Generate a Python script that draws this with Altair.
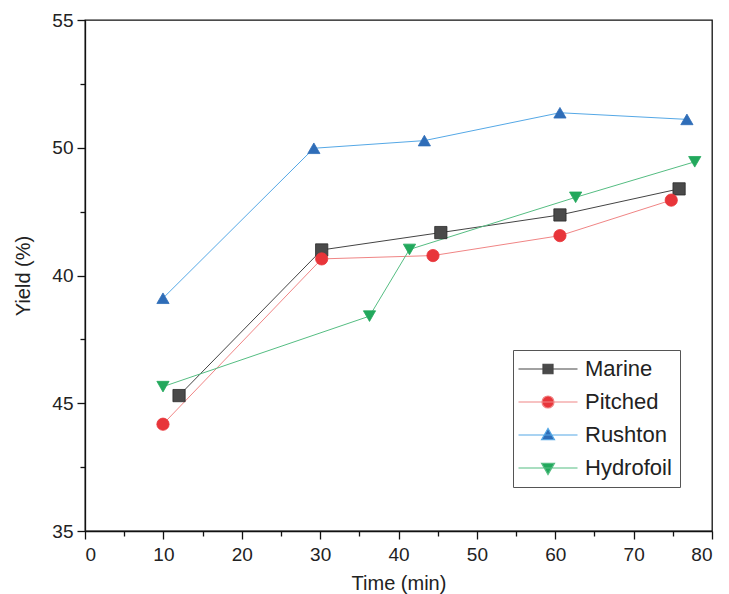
import altair as alt
import pandas as pd

series_names = ["Marine", "Pitched", "Rushton", "Hydrofoil"]

time_marine = [12.0, 30.2, 45.4, 60.6, 75.8]
yield_marine = [40.30, 46.00, 46.68, 47.37, 48.39]

time_pitched = [9.95, 30.2, 44.4, 60.6, 74.8]
yield_pitched = [39.18, 45.65, 45.78, 46.56, 47.95]

time_rushton = [9.95, 29.2, 43.3, 60.6, 76.8]
yield_rushton = [44.11, 49.98, 50.28, 51.37, 51.11]

time_hydro = [9.95, 36.3, 41.4, 62.6, 77.8]
yield_hydro = [40.65, 43.41, 46.02, 48.06, 49.45]

x_ticks = [0, 5, 10, 15, 20, 25, 30, 35, 40, 45, 50, 55, 60, 65, 70, 75, 80]
y_ticks = [35, 37.5, 40, 42.5, 45, 47.5, 50, 52.5, 55]

line_colors = ["#444444", "#f08585", "#55a8e6", "#55bd82"]
marker_fills = ["#4a4a4a", "#e8353a", "#2f6db8", "#22a85c"]
marker_strokes = ["#2a2a2a", "#e8353a", "#2f6db8", "#22a85c"]
marker_shapes = ["square", "circle", "triangle-up", "triangle-down"]

# legend symbols: a line with the marker in its middle
legend_paths = [
    "M-2.7,0H9.1M2.2,-0.95H4.2V0.95H2.2Z",
    "M-2.7,0H9.1M2.0,0A1.2,1.2 0 1,1 4.4,0A1.2,1.2 0 1,1 2.0,0Z",
    "M-2.7,0H9.1M1.9,0.95L3.2,-1.3L4.5,0.95Z",
    "M-2.7,0H9.1M1.9,-0.95L3.2,1.3L4.5,-0.95Z",
]

rows = []
for name, ts, ys in [
    ("Marine", time_marine, yield_marine),
    ("Pitched", time_pitched, yield_pitched),
    ("Rushton", time_rushton, yield_rushton),
    ("Hydrofoil", time_hydro, yield_hydro),
]:
    for i, (t, y) in enumerate(zip(ts, ys)):
        rows.append({"series": name, "time": t, "yield": y, "order": i})
df = pd.DataFrame(rows)

FONT = "Liberation Sans"

x_enc = alt.X(
    "time:Q",
    scale=alt.Scale(domain=[0, 80], nice=False),
    axis=alt.Axis(
        title="Time (min)",
        values=x_ticks,
        labelExpr="datum.value % 10 == 0 ? datum.label : ''",
        tickSize={"condition": {"test": "datum.value % 10 == 0", "value": 8}, "value": 5},
        labelPadding=6,
        titlePadding=9,
        grid=False,
    ),
)
y_enc = alt.Y(
    "yield:Q",
    scale=alt.Scale(domain=[35, 55], nice=False, zero=False),
    axis=alt.Axis(
        title="Yield (%)",
        values=y_ticks,
        labelExpr="datum.value == 40 ? '45' : (datum.value == 45 ? '40' : (datum.value % 5 == 0 ? datum.label : ''))",
        tickSize={"condition": {"test": "datum.value % 5 == 0", "value": 8}, "value": 5},
        labelPadding=4,
        titlePadding=18,
        grid=False,
    ),
)

base = alt.Chart(df)

lines = base.mark_line(strokeWidth=1.0).encode(
    x=x_enc,
    y=y_enc,
    order="order:Q",
    stroke=alt.Stroke(
        "series:N",
        scale=alt.Scale(domain=series_names, range=line_colors),
        legend=None,
    ),
)

points = base.mark_point(filled=True, size=150, strokeWidth=0.8, opacity=1).encode(
    x=x_enc,
    y=y_enc,
    fill=alt.Fill("series:N", scale=alt.Scale(domain=series_names, range=marker_fills), legend=None),
    stroke=alt.Stroke("series:N", scale=alt.Scale(domain=series_names, range=marker_strokes), legend=None),
    shape=alt.Shape("series:N", scale=alt.Scale(domain=series_names, range=marker_shapes), legend=None),
)

legend_layer = base.transform_filter("false").mark_point(filled=True, opacity=1).encode(
    x=x_enc,
    y=y_enc,
    fill=alt.Fill("series:N", scale=alt.Scale(domain=series_names, range=marker_fills), legend=alt.Legend(title=None)),
    stroke=alt.Stroke("series:N", scale=alt.Scale(domain=series_names, range=line_colors), legend=alt.Legend(title=None)),
    shape=alt.Shape("series:N", scale=alt.Scale(domain=series_names, range=legend_paths), legend=alt.Legend(title=None)),
)

chart = (
    alt.layer(lines, points, legend_layer)
    .resolve_scale(stroke="independent", fill="independent", shape="independent")
    .properties(
        width=627,
        height=511,
        autosize=alt.AutoSizeParams(type="none"),
        padding={"left": 77, "top": 12, "right": 9, "bottom": 63},
    )
    .configure_view(stroke="#111", strokeWidth=1.3)
    .configure_axis(
        domainColor="#111",
        domainWidth=1.3,
        tickColor="#111",
        tickWidth=1.3,
        labelFont=FONT,
        labelFontSize=19,
        labelColor="#222",
        titleFont=FONT,
        titleFontSize=20,
        titleFontWeight="normal",
        titleColor="#222",
    )
    .configure_legend(
        orient="none",
        legendX=428,
        legendY=330,
        padding=8,
        fillColor="white",
        strokeColor="#555",
        labelFont=FONT,
        labelFontSize=22,
        labelColor="#222",
        labelOffset=42,
        rowPadding=11,
        symbolSize=100,
        symbolStrokeWidth=1.2,
        labelLimit=300,
    )
)

chart.save("out.html", embed_options={"renderer": "svg", "actions": False})
